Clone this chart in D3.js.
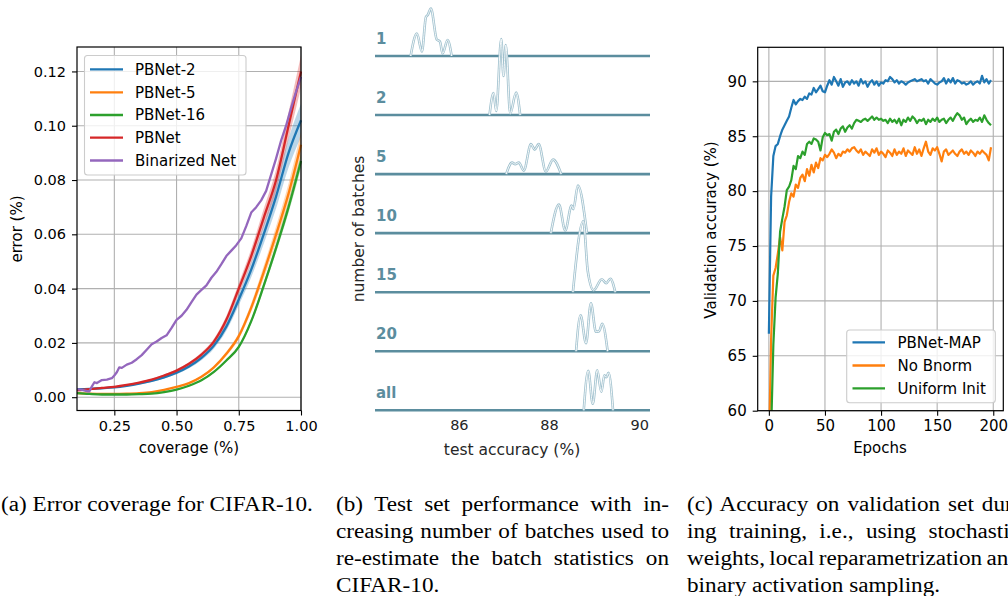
<!DOCTYPE html>
<html>
<head>
<meta charset="utf-8">
<script src="https://cdn.jsdelivr.net/npm/d3@7"></script>
<style>
body { margin: 0; background: #fff; }
text { font-family: "DejaVu Sans", sans-serif; }
</style>
</head>
<body>
<script>
// ---- panel (a): error vs coverage ----
const coverage = [0.10, 0.15, 0.20, 0.25, 0.30, 0.35, 0.40, 0.45, 0.50, 0.55,
                  0.60, 0.65, 0.70, 0.75, 0.80, 0.85, 0.90, 0.95, 1.00];
const errPB2  = [0.0030, 0.0031, 0.0033, 0.0036, 0.0042, 0.0050, 0.0060, 0.0073, 0.0090, 0.0113,
                 0.0145, 0.0190, 0.0260, 0.0360, 0.0470, 0.0600, 0.0740, 0.0900, 0.1020];
const errPB5  = [0.0015, 0.0013, 0.0012, 0.0012, 0.0013, 0.0015, 0.0019, 0.0027, 0.0038, 0.0052,
                 0.0075, 0.0110, 0.0160, 0.0225, 0.0330, 0.0460, 0.0600, 0.0750, 0.0930];
const errPB16 = [0.0015, 0.0012, 0.0010, 0.0010, 0.0010, 0.0011, 0.0013, 0.0019, 0.0028, 0.0042,
                 0.0062, 0.0093, 0.0135, 0.0185, 0.0280, 0.0410, 0.0550, 0.0700, 0.0870];
const errPB   = [0.0025, 0.0030, 0.0034, 0.0038, 0.0045, 0.0054, 0.0065, 0.0080, 0.0098, 0.0123,
                 0.0157, 0.0205, 0.0285, 0.0400, 0.0520, 0.0660, 0.0800, 0.1000, 0.1200];
const bandRel = [0.06, 0.05, 0.03, 0.05];   // relative spread of the shaded bands

const binCov = [0.10, 0.12, 0.14, 0.15, 0.16, 0.17, 0.18, 0.20, 0.22, 0.24, 0.25, 0.26, 0.27, 0.28,
                0.30, 0.32, 0.34, 0.36, 0.38, 0.40, 0.42, 0.44, 0.46, 0.48, 0.50, 0.52, 0.54, 0.56,
                0.58, 0.60, 0.62, 0.64, 0.66, 0.68, 0.70, 0.72, 0.74, 0.76, 0.78, 0.80, 0.82, 0.84,
                0.86, 0.88, 0.90, 0.92, 0.94, 0.96, 0.98, 1.00];
const binErr = [0.0030, 0.0027, 0.0022, 0.0022, 0.0040, 0.0055, 0.0052, 0.0063, 0.0065, 0.0070, 0.0080, 0.0092, 0.0110, 0.0108,
                0.0120, 0.0127, 0.0140, 0.0155, 0.0175, 0.0195, 0.0205, 0.0218, 0.0228, 0.0255, 0.0285, 0.0300, 0.0322, 0.0350,
                0.0378, 0.0395, 0.0412, 0.0440, 0.0462, 0.0490, 0.0520, 0.0540, 0.0560, 0.0585, 0.0630, 0.0680, 0.0700, 0.0725,
                0.0760, 0.0820, 0.0880, 0.0945, 0.1000, 0.1065, 0.1125, 0.1180];

const namesA = ['PBNet-2', 'PBNet-5', 'PBNet-16', 'PBNet', 'Binarized Net'];
const colorsA = ['#1f77b4', '#ff7f0e', '#2ca02c', '#d62728', '#9467bd'];
const xTicksA = [0.25, 0.50, 0.75, 1.00];
const yTicksA = [0.00, 0.02, 0.04, 0.06, 0.08, 0.10, 0.12];

// ---- panel (b): ridge plot, [accuracy, density] ----
const batchLabels = ['1', '2', '5', '10', '15', '20', 'all'];
const ridge1  = [[84.93, 0], [85.07, 0.45], [85.18, 0.09], [85.27, 0.78], [85.31, 0.82], [85.38, 0.95],
                 [85.51, 0.33], [85.58, 0.29], [85.64, 0.05], [85.75, 0.32], [85.84, 0]];
const ridge2  = [[86.68, 0], [86.77, 0.44], [86.83, 0.08], [86.94, 1.52], [86.99, 0.78], [87.04, 1.40],
                 [87.14, 0.03], [87.27, 0.45], [87.36, 0]];
const ridge5  = [[87.05, 0], [87.18, 0.23], [87.25, 0.20], [87.33, 0.23], [87.44, 0.07], [87.60, 0.60],
                 [87.68, 0.49], [87.77, 0.60], [87.93, 0.05], [88.09, 0.29], [88.27, 0]];
const ridge10 = [[88.04, 0], [88.22, 0.57], [88.36, 0.05], [88.50, 0.55], [88.54, 0.48], [88.64, 0.95], [88.84, 0]];
const ridge15 = [[88.53, 0], [88.76, 1.42], [88.86, 0.42], [88.99, 0.04], [89.17, 0.26], [89.27, 0.18],
                 [89.36, 0.27], [89.47, 0]];
const ridge20 = [[88.60, 0], [88.70, 0.72], [88.82, 0.16], [88.93, 0.96], [89.04, 0.39], [89.11, 0.40],
                 [89.18, 0.55], [89.30, 0]];
const ridgeAll = [[88.77, 0], [88.87, 0.79], [88.97, 0.13], [89.07, 0.80], [89.16, 0.37], [89.23, 0.70],
                  [89.27, 0.66], [89.32, 0.75], [89.42, 0]];
const ridges = [ridge1, ridge2, ridge5, ridge10, ridge15, ridge20, ridgeAll];
const xTicksB = [86, 88, 90];

// ---- panel (c): validation accuracy per epoch (every 2nd epoch) ----
const epochs = d3.range(0, 200, 2);
const accMAP = [67.0, 79.5, 83.2, 84.1, 84.3, 85.0, 85.6, 86.0, 86.4, 86.8,
                87.6, 88.3, 87.9, 88.2, 88.4, 88.3, 88.6, 88.4, 88.9, 88.8,
                89.4, 89.0, 89.3, 89.6, 89.1, 89.0, 89.6, 90.1, 89.7, 90.4,
                90.0, 89.6, 90.2, 89.5, 89.9, 90.0, 89.7, 90.1, 89.8, 90.0,
                89.6, 90.2, 89.8, 90.0, 89.5, 89.9, 90.1, 89.7, 90.0, 89.6,
                89.9, 89.8, 90.1, 90.0, 90.4, 90.2, 89.9, 90.1, 89.8, 90.0,
                89.9, 89.7, 89.9, 90.0, 90.1, 90.2, 90.0, 90.1, 90.2, 90.0,
                90.1, 89.8, 90.2, 90.0, 89.8, 89.7, 89.9, 90.0, 90.3, 89.8,
                90.2, 89.9, 90.3, 89.8, 90.1, 90.0, 89.8, 89.9, 89.7, 89.8,
                90.0, 89.7, 89.9, 90.0, 89.8, 90.5, 89.9, 90.2, 89.8, 90.1];
const accNoBn = [56.0, 66.5, 72.3, 73.0, 74.3, 75.8, 74.6, 77.2, 77.8, 79.0,
                 79.8, 79.5, 80.6, 80.3, 81.2, 81.5, 80.9, 82.0, 81.4, 82.4,
                 81.7, 82.6, 82.1, 83.0, 82.8, 83.3, 83.1, 83.4, 83.8, 83.5,
                 83.0, 83.4, 83.2, 83.6, 83.5, 83.8, 83.6, 83.9, 84.0, 83.7,
                 83.5, 83.8, 83.3, 83.6, 83.4, 83.2, 83.8, 83.5, 83.9, 83.3,
                 83.6, 83.4, 83.1, 83.7, 83.5, 83.2, 83.8, 83.3, 83.6, 83.4,
                 83.9, 83.2, 83.7, 83.5, 83.3, 84.0, 83.4, 83.8, 83.2, 83.9,
                 84.5, 83.6, 83.3, 83.9, 83.7, 84.0, 83.4, 82.7, 83.6, 83.8,
                 83.3, 83.5, 83.7, 83.4, 83.2, 83.6, 83.8, 83.4, 83.6, 83.3,
                 83.7, 83.5, 83.2, 83.6, 83.4, 83.7, 83.5, 83.3, 82.8, 84.0];
const accUni = [55.0, 58.0, 66.0, 70.3, 72.5, 76.3, 77.5, 78.6, 80.1, 80.4,
                81.0, 82.3, 82.0, 83.2, 83.0, 83.6, 83.3, 84.3, 84.5, 84.3,
                84.8, 84.7, 84.5, 83.7, 84.9, 85.3, 85.1, 85.2, 84.6, 85.4,
                85.6, 85.2, 85.7, 85.9, 85.4, 85.8, 86.0, 85.7, 86.2, 86.5,
                86.4, 86.3, 86.5, 86.6, 86.4, 86.6, 86.8, 86.5, 86.7, 86.5,
                86.6, 86.4, 86.5, 86.2, 86.6, 86.3, 86.5, 86.2, 86.6, 86.0,
                86.5, 86.3, 86.7, 86.4, 86.8, 86.6, 86.2, 86.5, 86.4, 86.6,
                86.1, 86.5, 86.3, 86.6, 86.4, 86.7, 86.3, 86.5, 86.6, 86.2,
                86.5, 86.7, 86.4, 86.8, 87.1, 86.9, 86.5, 86.7, 86.1, 86.4,
                86.6, 86.3, 86.5, 86.4, 86.7, 86.3, 86.9, 86.5, 86.2, 86.0];
const namesC = ['PBNet-MAP', 'No Bnorm', 'Uniform Init'];
const colorsC = ['#1f77b4', '#ff7f0e', '#2ca02c'];
const xTicksC = [0, 50, 100, 150, 200];
const yTicksC = [60, 65, 70, 75, 80, 85, 90];

// ---- captions ----
const captionA = ['(a) Error coverage for CIFAR-10.'];
const captionB = ['(b) Test set performance with in-', 'creasing number of batches used to',
                  're-estimate the batch statistics on', 'CIFAR-10.'];
const captionC = ['(c) Accuracy on validation set dur-', 'ing training, i.e., using stochastic',
                  'weights, local reparametrization and', 'binary activation sampling.'];

function styleAxis(g, size) {
    g.attr('font-size', null).attr('font-family', null);
    g.select('.domain').remove();
    g.selectAll('.tick line').attr('stroke', '#000').attr('stroke-width', 1.1);
    g.selectAll('.tick text').attr('fill', '#000').style('font-size', size + 'px');
}

function grid(svg, x, y, xt, yt) {
    const [x0, x1] = x.range(), [y0, y1] = y.range();
    const g = svg.append('g');
    xt.forEach(t => g.append('line').attr('x1', x(t)).attr('x2', x(t)).attr('y1', y0).attr('y2', y1)
        .attr('stroke', '#b0b0b0').attr('stroke-width', 1.1));
    yt.forEach(t => g.append('line').attr('x1', x0).attr('x2', x1).attr('y1', y(t)).attr('y2', y(t))
        .attr('stroke', '#b0b0b0').attr('stroke-width', 1.1));
    return g;
}

function frame(svg, x, y) {
    const [x0, x1] = x.range(), [y0, y1] = y.range();
    svg.append('rect').attr('x', x0).attr('y', y1).attr('width', x1 - x0).attr('height', y0 - y1)
        .attr('fill', 'none').attr('stroke', '#000').attr('stroke-width', 1.2);
}

function legend(svg, box, names, colors, rowY, lineX, textX) {
    svg.append('rect').attr('x', box[0]).attr('y', box[1]).attr('width', box[2]).attr('height', box[3])
        .attr('rx', 3).attr('fill', '#fff').attr('fill-opacity', 0.8)
        .attr('stroke', '#cccccc').attr('stroke-width', 1.1);
    names.forEach((n, i) => {
        svg.append('line').attr('x1', lineX[0]).attr('x2', lineX[1]).attr('y1', rowY[i]).attr('y2', rowY[i])
            .attr('stroke', colors[i]).attr('stroke-width', 2.3);
        svg.append('text').attr('x', textX).attr('y', rowY[i]).attr('dy', '0.36em')
            .style('font-size', '15px').attr('fill', '#000').text(n);
    });
}

function main() {
    const svg = d3.select('body').append('svg').attr('width', 1008).attr('height', 596);

    // ---------- (a) ----------
    const xA = d3.scaleLinear().domain([0.1, 1.0]).range([77, 301]);
    const yA = d3.scaleLinear().domain([-0.0049, 0.129]).range([410.5, 47]);
    grid(svg, xA, yA, xTicksA, yTicksA);

    const seriesA = [errPB2, errPB5, errPB16, errPB];
    seriesA.forEach((s, i) => {
        const area = d3.area().x((d, j) => xA(coverage[j]))
            .y0(d => yA(d * (1 - bandRel[i]))).y1(d => yA(d * (1 + bandRel[i])))
            .curve(d3.curveMonotoneX);
        svg.append('path').attr('d', area(s)).attr('fill', colorsA[i]).attr('fill-opacity', 0.3);
    });
    seriesA.forEach((s, i) => {
        const line = d3.line().x((d, j) => xA(coverage[j])).y(d => yA(d)).curve(d3.curveMonotoneX);
        svg.append('path').attr('d', line(s)).attr('fill', 'none')
            .attr('stroke', colorsA[i]).attr('stroke-width', 2.3);
    });
    const binLine = d3.line().x((d, j) => xA(binCov[j])).y(d => yA(d));
    svg.append('path').attr('d', binLine(binErr)).attr('fill', 'none')
        .attr('stroke', colorsA[4]).attr('stroke-width', 2.3).attr('stroke-linejoin', 'round');

    frame(svg, xA, yA);
    const axAx = svg.append('g').attr('transform', 'translate(0,410.5)')
        .call(d3.axisBottom(xA).tickValues(xTicksA).tickFormat(d3.format('.2f')).tickSize(5).tickPadding(5));
    styleAxis(axAx, 14.5);
    const axAy = svg.append('g').attr('transform', 'translate(77,0)')
        .call(d3.axisLeft(yA).tickValues(yTicksA).tickFormat(d3.format('.2f')).tickSize(5).tickPadding(6));
    styleAxis(axAy, 14.5);
    svg.append('text').attr('x', 189).attr('y', 453).attr('text-anchor', 'middle')
        .style('font-size', '15px').text('coverage (%)');
    svg.append('text').attr('transform', 'translate(22,229) rotate(-90)').attr('text-anchor', 'middle')
        .style('font-size', '15px').text('error (%)');
    legend(svg, [84.5, 55.5, 161.5, 119.5], namesA, colorsA,
           [69.3, 92.3, 115, 137.7, 160.5], [90, 123], 135);

    // ---------- (b) ----------
    const xB = d3.scaleLinear().domain([84.14, 90.24]).range([375, 650]);
    const rowY = d3.scalePoint().domain(batchLabels).range([56, 410.3]);
    const hB = d3.scaleLinear().domain([0, 1]).range([0, 50]);
    const baseCol = '#5b8d9e', ridgeCol = '#9fc0cd';
    batchLabels.forEach((lab, i) => {
        const b = rowY(lab);
        svg.append('line').attr('x1', xB.range()[0]).attr('x2', xB.range()[1]).attr('y1', b).attr('y2', b)
            .attr('stroke', baseCol).attr('stroke-width', 2.6);
        const line = d3.line().x(d => xB(d[0])).y(d => b - hB(d[1])).curve(d3.curveMonotoneX);
        svg.append('path').attr('d', line(ridges[i])).attr('fill', 'none')
            .attr('stroke', ridgeCol).attr('stroke-width', 2.6);
        svg.append('path').attr('d', line(ridges[i])).attr('fill', 'none')
            .attr('stroke', '#fff').attr('stroke-width', 0.9);
        svg.append('text').attr('x', 376).attr('y', b - 12).style('font-size', '15px')
            .style('font-weight', 'bold').attr('fill', baseCol).text(lab);
    });
    const axB = svg.append('g').attr('transform', 'translate(0,414)')
        .call(d3.axisBottom(xB).tickValues(xTicksB).tickFormat(d3.format('d')).tickSize(0).tickPadding(6));
    styleAxis(axB, 14.5);
    axB.selectAll('.tick text').attr('fill', '#262626');
    svg.append('text').attr('x', 512).attr('y', 455).attr('text-anchor', 'middle')
        .style('font-size', '15.5px').attr('fill', '#262626').text('test accuracy (%)');
    svg.append('text').attr('transform', 'translate(364,229) rotate(-90)').attr('text-anchor', 'middle')
        .style('font-size', '15.5px').attr('fill', '#262626').text('number of batches');

    // ---------- (c) ----------
    const xC = d3.scaleLinear().domain([-9.95, 208.95]).range([757.7, 1003.3]);
    const yC = d3.scaleLinear().domain([60, 93.1]).range([410.7, 47.3]);
    grid(svg, xC, yC, xTicksC, yTicksC);
    svg.append('clipPath').attr('id', 'clipC').append('rect')
        .attr('x', 757.7).attr('y', 47.3).attr('width', 245.6).attr('height', 363.4);
    const seriesC = [accMAP, accNoBn, accUni];
    seriesC.forEach((s, i) => {
        const line = d3.line().x((d, j) => xC(epochs[j])).y(d => yC(d));
        svg.append('path').attr('d', line(s)).attr('fill', 'none').attr('clip-path', 'url(#clipC)')
            .attr('stroke', colorsC[i]).attr('stroke-width', 2.2).attr('stroke-linejoin', 'round');
    });
    frame(svg, xC, yC);
    const axCx = svg.append('g').attr('transform', 'translate(0,410.7)')
        .call(d3.axisBottom(xC).tickValues(xTicksC).tickFormat(d3.format('d')).tickSize(5).tickPadding(5));
    styleAxis(axCx, 15);
    const axCy = svg.append('g').attr('transform', 'translate(757.7,0)')
        .call(d3.axisLeft(yC).tickValues(yTicksC).tickFormat(d3.format('d')).tickSize(5).tickPadding(6));
    styleAxis(axCy, 15);
    svg.append('text').attr('x', 880).attr('y', 453).attr('text-anchor', 'middle')
        .style('font-size', '15px').text('Epochs');
    svg.append('text').attr('transform', 'translate(716,230) rotate(-90)').attr('text-anchor', 'middle')
        .style('font-size', '15px').text('Validation accuracy (%)');
    legend(svg, [846.7, 330, 148.6, 72.7], namesC, colorsC, [342.3, 365.5, 388.3], [852.5, 885], 897.5);

    // ---------- captions (glyphs a little squatter than the font) ----------
    function caption(lines, x, width) {
        lines.forEach((t, i) => {
            const el = svg.append('text')
                .attr('transform', `translate(${x},${511 + i * 27}) scale(1,0.93)`)
                .style('font-family', '"Liberation Serif", "Times New Roman", serif')
                .style('font-size', '23.2px').attr('fill', '#000').text(t);
            if (width && i < lines.length - 1) {
                const natural = el.node().getComputedTextLength();
                const spaces = (t.match(/ /g) || []).length;
                if (spaces) el.attr('word-spacing', Math.max(-2, (width - natural) / spaces));
            }
        });
    }
    caption(captionA, 1, null);
    caption(captionB, 336, 333);
    caption(captionC, 687, 333);
}

main();
</script>
</body>
</html>
